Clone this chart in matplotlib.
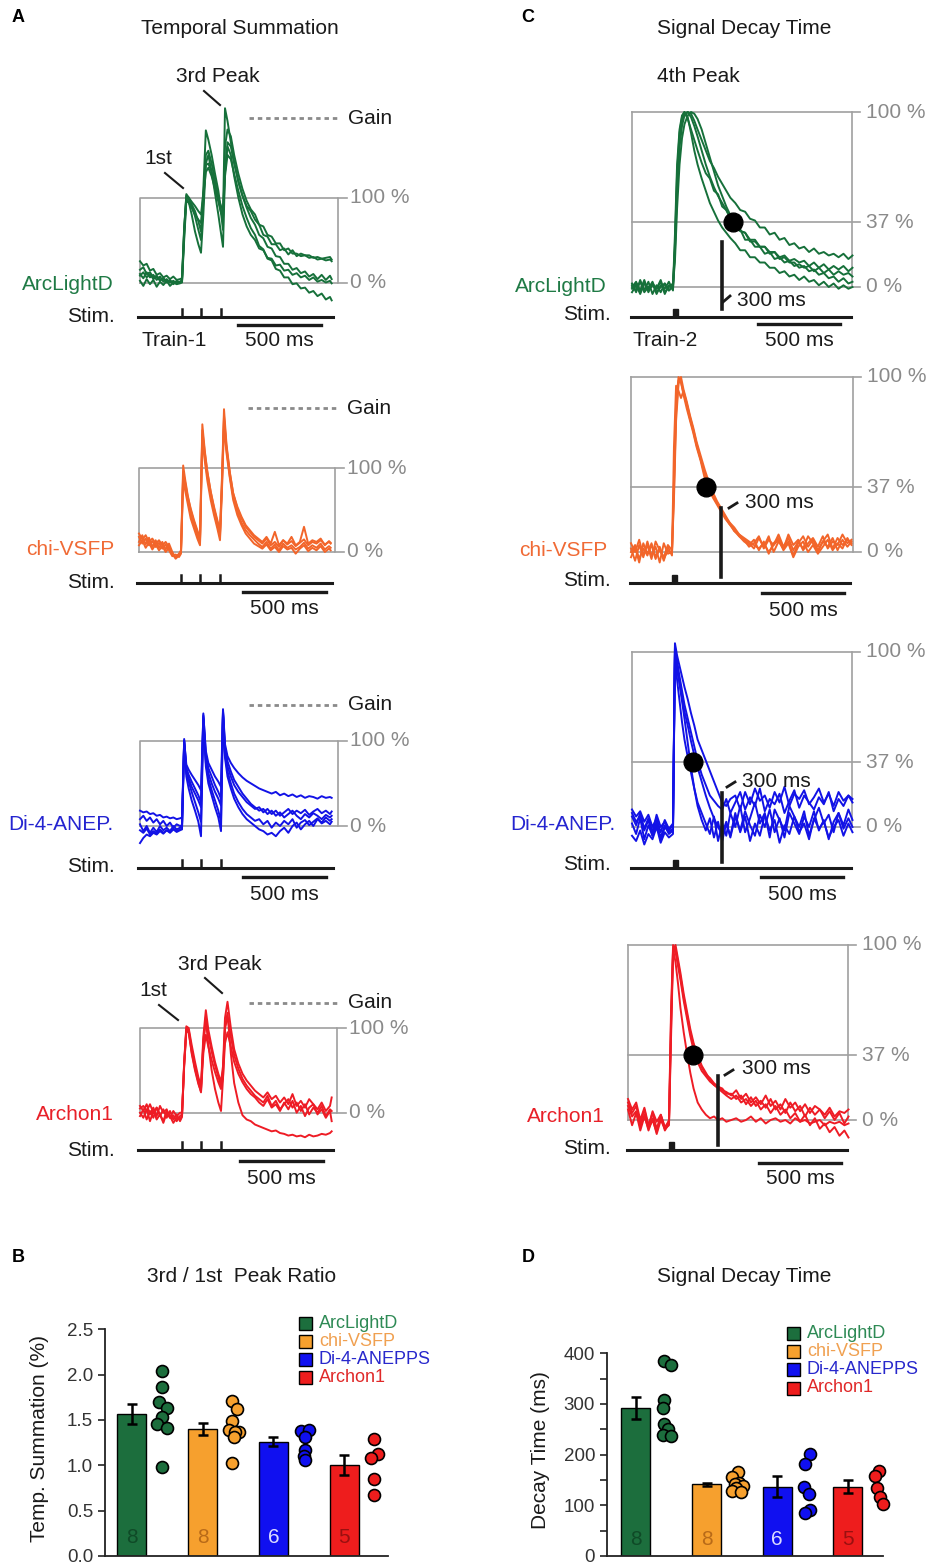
import numpy as np
import matplotlib
matplotlib.use('Agg')
import matplotlib.pyplot as plt
from matplotlib.lines import Line2D
from matplotlib.patches import Rectangle
import matplotlib.transforms as mtrans

plt.rcParams['font.family'] = ['Liberation Sans', 'DejaVu Sans']

# ======================= DATA =======================
ROW_LABELS = ['ArcLightD', 'chi-VSFP', 'Di-4-ANEP.', 'Archon1']
LEGEND_LABELS = ['ArcLightD', 'chi-VSFP', 'Di-4-ANEPPS', 'Archon1']

# ---- A: temporal summation traces (time in ms, signal in % of 1st peak)
T_A = [0, 20, 40, 60, 80, 100, 120, 140, 160, 180, 200, 220, 240,
       252, 265, 278, 292, 310, 330, 350, 366,
       380, 395, 410, 430, 450, 470, 486,
       498, 510, 525, 545, 565, 590, 615, 640,
       665, 690, 715, 740, 765, 790, 815, 840, 865, 890, 915, 940, 965, 990,
       1015, 1040, 1065, 1090, 1115, 1140, 1150]
STIM_TIMES_A = [252, 366, 486]
GAIN_A = [193, 171, 142, 130]

arc_sum_1 = [25,20,22,14,16,9,11,6,8,4,7,3,4, 5,65,100,98, 92,84,72,60,
             110,179,168,150,128,108,85, 75,205,190,165,142,118,102,90,
             84,74,68,56,54,45,45,38,40,33,38,31,34,32,32,29,30,28,29,30,27]
arc_sum_2 = [8,12,6,10,4,7,2,5,0,3,-2,2,0, 2,60,104,100, 90,78,62,50,
             95,150,155,140,120,100,82, 62,160,180,172,150,128,110,96,
             86,80,68,66,56,54,46,46,38,40,34,34,31,32,29,30,27,28,26,27,25]
arc_sum_3 = [15,18,10,12,6,8,3,5,1,2,-1,1,0, 1,55,98,95, 80,60,45,35,
             80,140,150,130,105,80,58, 42,130,160,150,125,100,80,66,
             56,50,40,38,29,28,20,21,14,15,9,11,6,8,3,6,1,3,0,2,-1]
arc_sum_4 = [2,-4,4,-2,3,-5,1,-3,2,-4,0,-2,-1, 0,50,96,94, 88,80,74,70,
             100,130,135,125,110,95,82, 76,125,150,145,128,108,90,76,
             64,56,43,39,28,26,16,14,6,6,-2,-1,-7,-6,-12,-10,-16,-13,-20,-17,-21]
arc_sum_5 = [10,5,12,6,9,3,7,1,4,0,2,-1,1, 3,62,102,100, 95,90,84,80,
             105,138,140,130,115,100,90, 85,130,165,160,140,120,102,88,
             76,68,56,52,42,40,31,30,22,22,15,17,11,13,7,10,4,9,3,8,4]

chi_sum_1 = [22,15,20,12,16,10,14,8,12,6,-4,-6,-2, 2,103,85,68, 50,36,24,14,
             152,120,96,72,52,36,22, 90,170,128,95,70,52,40,30,
             24,18,14,10,16,8,12,6,14,9,13,7,11,15,8,12,10,14,9,12,10]
chi_sum_2 = [8,14,5,11,3,9,2,7,0,5,-2,-8,-4, 0,90,78,62, 45,32,20,10,
             140,112,90,68,48,32,18, 80,158,122,90,66,48,35,26,
             20,15,10,6,12,4,9,2,10,5,8,3,6,11,4,8,5,10,3,7,5]
chi_sum_3 = [18,10,16,8,13,6,11,4,9,2,-5,-3,-6, -2,85,72,58, 40,28,16,8,
             135,108,85,62,44,28,14, 75,150,118,88,62,44,32,22,
             16,10,7,4,9,2,6,0,7,3,5,-2,4,8,1,5,2,7,0,4,2]
chi_sum_4 = [12,20,9,17,6,14,5,12,3,10,0,-7,-3, 1,95,82,66, 52,38,26,16,
             145,118,95,72,54,38,25, 85,162,125,94,70,54,42,32,
             26,20,16,12,18,10,24,8,14,10,18,8,12,30,10,14,12,16,8,13,11]

di4_sum_1 = [18,16,17,14,15,12,13,10,11,9,10,8,9, 10,100,72,66, 60,54,48,42,
             130,88,74,66,58,52,46, 137,96,82,74,68,62,57,53,
             50,47,44,42,40,38,40,36,38,35,37,34,36,33,35,34,32,35,33,34,33]
di4_sum_2 = [-20,-14,-10,-12,-8,-10,-6,-9,-5,-8,-4,-7,-5, -4,98,58,44, 30,18,5,-12,
             125,70,50,36,22,10,-6, 132,80,58,44,32,22,14,8,
             4,0,-4,-6,-10,-8,-12,-6,-2,-8,0,4,-4,2,6,0,8,4,10,6,8]
di4_sum_3 = [8,12,6,10,4,8,2,6,0,4,-2,2,0, 1,100,65,56, 46,38,30,22,
             128,78,62,50,40,32,24, 134,88,70,58,48,40,34,28,
             24,20,22,16,20,14,18,12,16,20,14,18,15,19,13,17,20,15,18,14,17]
di4_sum_4 = [-5,-8,-3,-10,-6,-9,-4,-8,-5,-7,-3,-6,-4, -3,95,62,52, 40,28,16,5,
             126,74,56,42,30,18,5, 130,84,64,50,38,28,20,14,
             10,6,8,2,6,-2,4,0,6,2,8,-2,4,7,1,5,9,3,6,2,5]
di4_sum_5 = [2,-6,0,-8,-2,-7,0,-5,-2,-6,0,-4,-2, 0,102,68,60, 52,44,36,28,
             132,84,68,58,48,40,32, 135,92,76,64,54,46,38,32,
             26,22,18,20,14,18,12,16,10,14,18,12,8,14,10,15,12,8,13,10,12]

arch_sum_1 = [5,8,2,10,0,6,-4,4,-6,2,-8,-2,-10, -5,60,102,100, 80,60,42,32,
              90,121,98,78,60,46,36, 55,112,131,100,75,58,46,38,
              32,26,22,18,24,16,20,12,18,10,22,8,14,6,16,10,4,12,2,8,18]
arch_sum_2 = [0,-6,4,-10,2,-8,-2,-12,0,-6,-3,-10,-4, -2,55,98,96, 70,50,34,25,
              85,110,80,50,28,12,2, 40,100,118,70,35,12,-3,-8,
              -10,-14,-16,-18,-20,-22,-21,-24,-25,-27,-26,-28,-27,-29,-26,-28,-27,-25,-26,-24,-22]
arch_sum_3 = [8,2,10,-2,6,-4,8,0,4,-6,2,-4,0, 0,58,100,98, 75,55,38,28,
              80,113,92,72,56,42,32, 50,100,113,90,68,52,40,32,
              26,20,16,12,20,8,14,4,10,16,6,12,2,10,-2,6,0,8,-4,4,2]
arch_sum_4 = [-4,4,-8,2,-6,6,-2,-10,2,-4,-12,-6,-8, -4,56,96,95, 72,52,36,24,
              70,92,78,62,48,36,28, 42,82,95,78,60,46,36,28,
              22,18,12,8,16,6,10,2,12,4,14,0,8,-4,6,10,-2,4,-6,2,-10]

# ---- C: signal decay traces (time in ms, signal in % of 4th peak)
T_C = [0, 25, 50, 75, 100, 125, 150, 175, 200, 225, 250,
       262, 275, 290, 305, 320, 340, 360, 380, 400,
       425, 450, 475, 500, 525, 550, 575, 600,
       630, 660, 690, 720, 750, 780, 810, 840, 870, 900, 930, 960, 990,
       1020, 1050, 1080, 1110, 1140, 1170, 1200, 1230, 1260, 1290, 1320, 1345]
STIM_BLOCK_C = (250, 280)
MARK_TIME_C = 550          # stimulus onset + 300 ms
DECAY_DOT_T = [616, 457, 372, 396]
DECAY_LEVEL = 37

arc_dec_1 = [2,-3,4,-2,3,-4,1,-3,2,-2,0, 30,70,90,98,100,96,90,84,78,
             71,65,62,55,53,46,44,39,
             37,32,31,27,27,23,23,19,20,16,17,14,14,11,12,9,10,7,8,5,6,3,5,2,3]
arc_dec_2 = [0,3,-2,4,-3,2,-1,3,-4,1,-1, 20,55,80,92,98,100,99,95,90,
             84,78,72,68,63,59,55,51,
             48,44,43,39,38,34,34,30,31,27,28,24,25,22,23,20,22,19,20,18,19,17,19,16,18]
arc_dec_3 = [-3,1,-4,2,-1,3,-3,0,2,-2,1, 15,45,70,85,93,98,100,99,96,
             90,82,74,66,58,52,46,41,
             36,33,27,27,23,23,19,20,16,17,14,15,12,13,11,12,9,11,8,10,7,9,7,8,6]
arc_dec_4 = [1,-2,3,-3,0,2,-4,1,-1,3,-2, 25,65,88,97,100,97,88,78,70,
             62,55,48,43,38,34,31,28,
             25,21,21,17,17,14,14,11,11,8,9,6,7,4,6,3,4,1,3,0,2,-1,1,-1,0]
arc_dec_5 = [-1,2,-3,3,-2,1,-1,4,-3,0,2, 22,60,85,95,99,100,97,92,86,
             78,70,63,57,52,48,44,40,
             36,32,31,26,26,23,23,20,20,17,18,15,16,14,15,12,14,11,13,10,12,10,12,9,11]

chi_dec_1 = [2,-5,4,-3,6,-2,3,-6,5,-1,0, 40,85,100,97,90,82,75,68,60,
             52,42,36,31,27,23,19,16,
             13,9,6,4,7,1,6,-1,5,8,2,6,-2,5,9,3,7,1,6,10,2,8,4,7,5]
chi_dec_2 = [-3,3,-6,5,-1,4,-4,2,-5,3,-2, 60,95,92,88,92,85,77,70,62,
             53,45,38,32,28,24,20,17,
             12,10,7,5,2,8,3,9,0,6,2,10,4,7,1,5,8,3,9,2,6,4,10,5,7]
chi_dec_3 = [5,0,7,-2,4,-4,6,1,-3,4,1, 30,75,96,100,93,86,78,71,63,
             55,47,40,34,29,25,21,17,
             14,10,8,6,4,2,5,0,4,7,1,5,-3,3,6,0,4,-1,3,7,1,5,2,8,4]
chi_dec_4 = [0,4,-4,2,-2,5,-3,3,-4,1,-1, 35,80,98,97,91,84,76,69,61,
             53,44,37,32,28,24,20,16,
             12,9,7,3,5,9,2,7,4,10,3,8,1,6,2,9,5,0,6,3,8,1,7,3,6]

di4_dec_1 = [8,3,6,-2,4,-5,2,-6,1,-4,-2, 103,92,82,72,62,48,34,22,12,
             4,-2,5,-6,3,-8,2,-5,
             8,-3,6,-8,2,-5,7,-2,4,-9,1,-4,6,-3,2,-7,5,-1,3,-6,0,4,-5,2,-3]
di4_dec_2 = [10,6,9,3,7,0,5,-3,4,-1,2, 105,98,92,86,80,73,65,58,50,
             44,38,32,26,20,14,12,16,
             18,10,20,13,22,15,18,11,20,14,23,12,19,16,21,13,17,22,14,19,12,20,15,18,16]
di4_dec_3 = [2,-4,5,-7,1,-5,3,-8,0,-3,-1, 100,90,82,74,66,58,49,41,34,
             26,18,11,5,0,-4,3,-6,
             6,-2,9,1,-5,7,0,10,-3,5,-6,8,2,-4,6,0,9,-2,4,-7,3,8,-1,5,0]
di4_dec_4 = [6,1,8,-1,5,-3,7,0,3,-2,1, 102,95,86,78,70,62,54,46,38,
             30,24,18,15,12,10,16,8,
             14,20,10,17,12,22,9,16,13,19,8,15,21,11,18,14,10,17,13,20,9,16,12,18,14]
di4_dec_5 = [-5,-8,-2,-10,-4,-7,0,-9,-3,-6,-4, 98,84,72,60,50,40,31,22,14,
             8,2,-4,6,-8,2,-5,8,
             0,12,-3,5,14,2,8,-6,10,4,-2,12,6,0,9,-5,4,11,2,7,-3,8,1,10,4]

arch_dec_1 = [10,4,8,-2,6,-4,5,-1,3,-5,0, 60,100,96,88,80,68,58,48,40,
              33,28,25,22,20,19,17,16,
              14,17,12,15,10,13,9,14,8,11,6,12,7,10,5,9,4,8,6,3,7,2,5,4,6]
arch_dec_2 = [6,-3,4,-6,2,-5,0,-7,3,-4,-1, 55,98,90,78,64,50,38,27,18,
              10,6,3,1,2,0,1,-1,
              0,1,-1,0,2,-1,1,-2,0,1,-1,0,-2,1,-1,0,-2,-1,0,-3,-1,-2,-1,-3,-2]
arch_dec_3 = [12,6,10,0,7,-3,4,-5,2,-6,-2, 50,97,100,92,84,72,62,52,44,
              36,30,26,24,21,19,18,15,
              15,12,14,9,13,8,11,7,12,6,9,4,10,5,8,2,7,3,6,1,5,0,4,-2,2]
arch_dec_4 = [8,2,5,-4,3,-6,1,-8,0,-5,-3, 45,95,98,90,82,70,60,50,43,
              37,31,27,23,20,18,16,14,
              12,14,10,12,8,11,6,9,4,8,3,6,1,4,-1,3,-3,1,-5,-2,-7,-4,-9,-6,-10]

SUM_TRACES = [[arc_sum_1, arc_sum_2, arc_sum_3, arc_sum_4, arc_sum_5],
              [chi_sum_1, chi_sum_2, chi_sum_3, chi_sum_4],
              [di4_sum_1, di4_sum_2, di4_sum_3, di4_sum_4, di4_sum_5],
              [arch_sum_1, arch_sum_2, arch_sum_3, arch_sum_4]]
DEC_TRACES = [[arc_dec_1, arc_dec_2, arc_dec_3, arc_dec_4, arc_dec_5],
              [chi_dec_1, chi_dec_2, chi_dec_3, chi_dec_4],
              [di4_dec_1, di4_dec_2, di4_dec_3, di4_dec_4, di4_dec_5],
              [arch_dec_1, arch_dec_2, arch_dec_3, arch_dec_4]]

# ---- B: 3rd / 1st peak ratio
B_MEAN = [1.57, 1.40, 1.26, 1.00]
B_SEM = [0.11, 0.07, 0.05, 0.11]
B_N = [8, 8, 6, 5]
B_PTS = [[2.04, 1.86, 1.70, 1.63, 1.53, 1.46, 1.41, 0.98],
         [1.71, 1.62, 1.49, 1.39, 1.37, 1.37, 1.31, 1.03],
         [1.38, 1.39, 1.31, 1.17, 1.10, 1.06],
         [1.29, 1.13, 1.08, 0.85, 0.67]]
# ---- D: decay time (ms)
D_MEAN = [292, 142, 137, 137]
D_SEM = [21, 3, 20, 13]
D_N = [8, 8, 6, 5]
D_PTS = [[384, 376, 308, 292, 260, 250, 238, 236],
         [165, 155, 145, 142, 139, 135, 129, 126],
         [202, 182, 137, 123, 90, 84],
         [168, 158, 134, 116, 103]]

# ======================= STYLE / LAYOUT =======================
TRACE_COLORS = ['#16703a', '#f2652a', '#1212e6', '#ee1c25']
LABEL_COLORS = ['#1f7a45', '#f06a35', '#2424d0', '#e82028']
BAR_COLORS = ['#1c6e3d', '#f6a02e', '#1010f0', '#ee1d1d']
LEG_TEXT_COLORS = ['#2e8a55', '#f0a050', '#2828cc', '#e02828']
NUM_COLORS = ['#0f4a27', '#b86a18', '#dcdcff', '#9a1010']
GRAY = '#a0a0a0'
TXT = '#1a1a1a'

B_JIT = [[0, 0, -0.03, 0.07, 0, -0.07, 0.07, 0],
         [0, 0.07, 0, -0.05, 0.1, 0.04, 0.02, 0],
         [-0.03, 0.08, 0.03, 0.03, 0.01, 0.03],
         [0, 0.06, -0.04, 0, 0]]
D_JIT = [[-0.02, 0.08, -0.02, -0.04, -0.02, 0.03, -0.04, 0.08],
         [0.03, -0.06, 0.04, -0.02, 0.1, 0.0, -0.06, 0.07],
         [0.05, -0.02, -0.04, 0.03, 0.05, -0.02],
         [0.02, -0.03, 0.0, 0.04, 0.08]]

W, H = 927, 1566
fig = plt.figure(figsize=(W / 100, H / 100), dpi=100)


def fx(x):
    return x / W


def fy(y):
    return 1 - y / H


def ftext(x, y, s, ha='left', va='center', size=15, color=TXT, weight='normal', rot=0):
    fig.text(fx(x), fy(y), s, ha=ha, va=va, fontsize=size, color=color,
             fontweight=weight, rotation=rot)


def fline(x1, y1, x2, y2, color=TXT, lw=1.5):
    fig.add_artist(Line2D([fx(x1), fx(x2)], [fy(y1), fy(y2)], color=color, lw=lw,
                          transform=fig.transFigure))


def trace_axes(left, right, ms_per_px, y0, y100, top, bottom):
    ax = fig.add_axes([fx(left), fy(bottom), (right - left) / W, (bottom - top) / H])
    ppp = (y0 - y100) / 100.0
    ax.set_xlim(0, (right - left) * ms_per_px)
    ax.set_ylim((y0 - bottom) / ppp, (y0 - top) / ppp)
    ax.axis('off')
    return ax


# ---------------- Panel A ----------------
A_GEOM = [
    dict(left=140, right=338, y0=282.5, y100=197.5, top=60, bottom=350, stim_y=317,
         bar_y=325, bar_t0=588, t500_y=341, lab_y=284, stim_lab_y=317),
    dict(left=139, right=335, y0=552, y100=468, top=380, bottom=620, stim_y=583,
         bar_y=592, bar_t0=624, t500_y=609, lab_y=549, stim_lab_y=583),
    dict(left=140, right=338, y0=826, y100=740.7, top=680, bottom=900, stim_y=868,
         bar_y=877, bar_t0=618, t500_y=894, lab_y=825, stim_lab_y=867),
    dict(left=140, right=337, y0=1112.7, y100=1028, top=940, bottom=1190, stim_y=1150,
         bar_y=1161, bar_t0=600, t500_y=1178, lab_y=1114, stim_lab_y=1151),
]
MSPP_A = 6.0
for i, g in enumerate(A_GEOM):
    ax = trace_axes(g['left'], g['right'], MSPP_A, g['y0'], g['y100'], g['top'], g['bottom'])
    tr = mtrans.blended_transform_factory(ax.transData, fig.transFigure)
    tR = (g['right'] - g['left']) * MSPP_A
    tick = 9 * MSPP_A
    ax.plot([0, tR, tR, 0, 0], [0, 0, 100, 100, 0], color=GRAY, lw=1.2, zorder=1, clip_on=False)
    ax.plot([tR, tR + tick], [100, 100], color=GRAY, lw=1.2, clip_on=False)
    ax.plot([tR, tR + tick], [0, 0], color=GRAY, lw=1.2, clip_on=False)
    ax.text(tR + 12 * MSPP_A, 100, '100 %', color='#8a8a8a', fontsize=15, va='center')
    ax.text(tR + 12 * MSPP_A, 0, '0 %', color='#8a8a8a', fontsize=15, va='center')
    ax.plot([654, 1182], [GAIN_A[i], GAIN_A[i]], color='#8a8a8a', lw=2.0,
            ls=(0, (1.6, 1.4)), clip_on=False)
    ax.text(1182 + 11 * MSPP_A, GAIN_A[i], 'Gain', color=TXT, fontsize=15, va='center')
    for tr_vals in SUM_TRACES[i]:
        ax.plot(T_A, tr_vals, color=TRACE_COLORS[i], lw=1.4, zorder=3, clip_on=False)
    sy = fy(g['stim_y'])
    ax.plot([-12, 1160], [sy, sy], color=TXT, lw=2.2, transform=tr, clip_on=False)
    for ts in STIM_TIMES_A:
        ax.plot([ts, ts], [sy, fy(g['stim_y'] - 8)], color=TXT, lw=1.8, transform=tr,
                clip_on=False)
    by = fy(g['bar_y'])
    ax.plot([g['bar_t0'], g['bar_t0'] + 500], [by, by], color=TXT, lw=2.4, transform=tr,
            clip_on=False)
    ax.text(g['bar_t0'] + 250, fy(g['t500_y']), '500 ms', transform=tr, ha='center',
            va='center', fontsize=15, color=TXT)
    ftext(114, g['lab_y'], ROW_LABELS[i], ha='right', color=LABEL_COLORS[i])
    ftext(115, g['stim_lab_y'], 'Stim.', ha='right')

ftext(174, 341, 'Train-1', ha='center')
ftext(218, 77, '3rd Peak', ha='center')
fline(204, 91, 220, 105)
ftext(158, 158, '1st', ha='center')
fline(165, 173, 183, 188)
ftext(220, 964, '3rd Peak', ha='center')
fline(205, 978, 222, 993)
ftext(153, 990, '1st', ha='center')
fline(159, 1005, 178, 1020)

# ---------------- Panel C ----------------
C_GEOM = [
    dict(left=632, right=852, y0=287, y100=112, top=60, bottom=350, stim_y=317, bar_y=324,
         bar_t0=769, t500_y=341, lab_y=286, lab_x=607, stim_lab_y=314,
         vline=(242, 309), lab300=(737, 300), hook=(723, 302, 730, 296)),
    dict(left=631, right=853, y0=552, y100=377, top=360, bottom=620, stim_y=583, bar_y=593,
         bar_t0=799, t500_y=610, lab_y=551, lab_x=607, stim_lab_y=580,
         vline=(508, 577), lab300=(745, 502), hook=(729, 508, 737, 503)),
    dict(left=632, right=852, y0=827, y100=652, top=630, bottom=900, stim_y=868, bar_y=877,
         bar_t0=787, t500_y=894, lab_y=824, lab_x=615, stim_lab_y=864,
         vline=(793, 862), lab300=(742, 781), hook=(727, 787, 735, 782)),
    dict(left=628, right=848, y0=1120, y100=945, top=920, bottom=1190, stim_y=1150,
         bar_y=1163, bar_t0=799, t500_y=1178, lab_y=1116, lab_x=605, stim_lab_y=1148,
         vline=(1076, 1145), lab300=(742, 1068), hook=(725, 1075, 733, 1070)),
]
MSPP_C = 6.1
for i, g in enumerate(C_GEOM):
    ax = trace_axes(g['left'], g['right'], MSPP_C, g['y0'], g['y100'], g['top'], g['bottom'])
    tr = mtrans.blended_transform_factory(ax.transData, fig.transFigure)
    tR = (g['right'] - g['left']) * MSPP_C
    tick = 8 * MSPP_C
    ax.plot([0, 0], [0, 100], color=GRAY, lw=1.2, zorder=1, clip_on=False)
    ax.plot([tR, tR], [0, 100], color=GRAY, lw=1.2, zorder=1, clip_on=False)
    for lev, lab in [(100, '100 %'), (DECAY_LEVEL, '37 %'), (0, '0 %')]:
        ax.plot([0, tR + tick], [lev, lev], color=GRAY, lw=1.2, zorder=1, clip_on=False)
        ax.text(tR + 14 * MSPP_C, lev, lab, color='#8a8a8a', fontsize=15, va='center')
    for tr_vals in DEC_TRACES[i]:
        ax.plot(T_C, tr_vals, color=TRACE_COLORS[i], lw=1.4, zorder=3, clip_on=False)
    ax.plot([DECAY_DOT_T[i]], [DECAY_LEVEL], 'o', color='black', ms=13.5, zorder=6,
            clip_on=False)
    sy = fy(g['stim_y'])
    ax.plot([-6, 1335], [sy, sy], color=TXT, lw=2.2, transform=tr, clip_on=False)
    ax.add_patch(Rectangle((STIM_BLOCK_C[0], sy), STIM_BLOCK_C[1] - STIM_BLOCK_C[0], 8 / H,
                           transform=tr, color=TXT, clip_on=False))
    ax.plot([MARK_TIME_C, MARK_TIME_C], [fy(g['vline'][0]), fy(g['vline'][1])], color=TXT,
            lw=2.6, transform=tr, clip_on=False, zorder=7)
    h = g['hook']
    fline(h[0], h[1], h[2], h[3], lw=2.0)
    ftext(g['lab300'][0], g['lab300'][1], '300 ms')
    by = fy(g['bar_y'])
    ax.plot([g['bar_t0'], g['bar_t0'] + 500], [by, by], color=TXT, lw=2.4, transform=tr,
            clip_on=False)
    ax.text(g['bar_t0'] + 250, fy(g['t500_y']), '500 ms', transform=tr, ha='center',
            va='center', fontsize=15, color=TXT)
    ftext(g['lab_x'], g['lab_y'], ROW_LABELS[i], ha='right', color=LABEL_COLORS[i])
    ftext(611, g['stim_lab_y'], 'Stim.', ha='right')

ftext(665, 341, 'Train-2', ha='center')
ftext(698, 77, '4th Peak', ha='center')

# ---------------- titles / letters ----------------
ftext(240, 29, 'Temporal Summation', ha='center')
ftext(744, 29, 'Signal Decay Time', ha='center')
ftext(242, 1277, '3rd / 1st  Peak Ratio', ha='center')
ftext(744, 1277, 'Signal Decay Time', ha='center')
for s, x, y in [('A', 18, 18), ('C', 528, 18), ('B', 18, 1258), ('D', 528, 1258)]:
    ftext(x, y, s, ha='center', size=13, weight='bold', color='black')


# ---------------- Bar charts ----------------
def bar_panel(left, right, bottom, top, xl, yl, means, sems, ns, pts, jit, num_y):
    ax = fig.add_axes([fx(left), fy(bottom), (right - left) / W, (bottom - top) / H])
    x = np.arange(len(means))
    ax.bar(x, means, width=0.41, color=BAR_COLORS, edgecolor='black', lw=1.0, zorder=2)
    ax.errorbar(x, means, yerr=sems, fmt='none', ecolor='black', elinewidth=1.8,
                capsize=3.5, capthick=1.8, zorder=3)
    for i in range(len(means)):
        xs = [i + 0.42 + j for j in jit[i]]
        ax.plot(xs, pts[i], 'o', mfc=BAR_COLORS[i], mec='black', ms=8.6, mew=1.2,
                ls='none', zorder=4, clip_on=False)
        ax.text(i, num_y, str(ns[i]), ha='center', va='center', fontsize=15,
                color=NUM_COLORS[i], zorder=5)
    ax.set_xlim(*xl)
    ax.set_ylim(*yl)
    for sp in ['top', 'right']:
        ax.spines[sp].set_visible(False)
    for sp in ['left', 'bottom']:
        ax.spines[sp].set_linewidth(1.3)
        ax.spines[sp].set_color('#222222')
    ax.set_xticks([])
    ax.tick_params(axis='y', direction='out', length=5, width=1.2, labelsize=13.5,
                   labelcolor='#333333', color='#222222')
    return ax


axB = bar_panel(105, 388, 1556, 1329.3, (-0.38, 3.62), (0, 2.5), B_MEAN, B_SEM, B_N,
                B_PTS, B_JIT, 0.2)
axB.set_yticks([0, 0.5, 1.0, 1.5, 2.0, 2.5])
axB.set_yticklabels(['0.0', '0.5', '1.0', '1.5', '2.0', '2.5'])
ftext(40, 1438, 'Temp. Summation (%)', ha='center', rot=90)

axD = bar_panel(607, 883, 1556, 1353.3, (-0.41, 3.5), (0, 400), D_MEAN, D_SEM, D_N,
                D_PTS, D_JIT, 33)
axD.set_yticks([0, 100, 200, 300, 400])
axD.set_yticks([50, 150, 250, 350], minor=True)
axD.tick_params(axis='y', which='minor', direction='out', length=5, width=1.2,
                color='#222222')
ftext(541, 1450, 'Decay Time (ms)', ha='center', rot=90)


def legend(x_sq, x_txt, ys, size_px):
    for i, y in enumerate(ys):
        fig.add_artist(Rectangle((fx(x_sq), fy(y + size_px / 2)), size_px / W, size_px / H,
                                 transform=fig.transFigure, facecolor=BAR_COLORS[i],
                                 edgecolor='black', lw=1.0))
        ftext(x_txt, y, LEGEND_LABELS[i], size=13, color=LEG_TEXT_COLORS[i])


legend(299, 319, [1323, 1341, 1359, 1377], 13)
legend(787, 807, [1333, 1351, 1369, 1388], 13)

fig.savefig('out.png', dpi=100)
